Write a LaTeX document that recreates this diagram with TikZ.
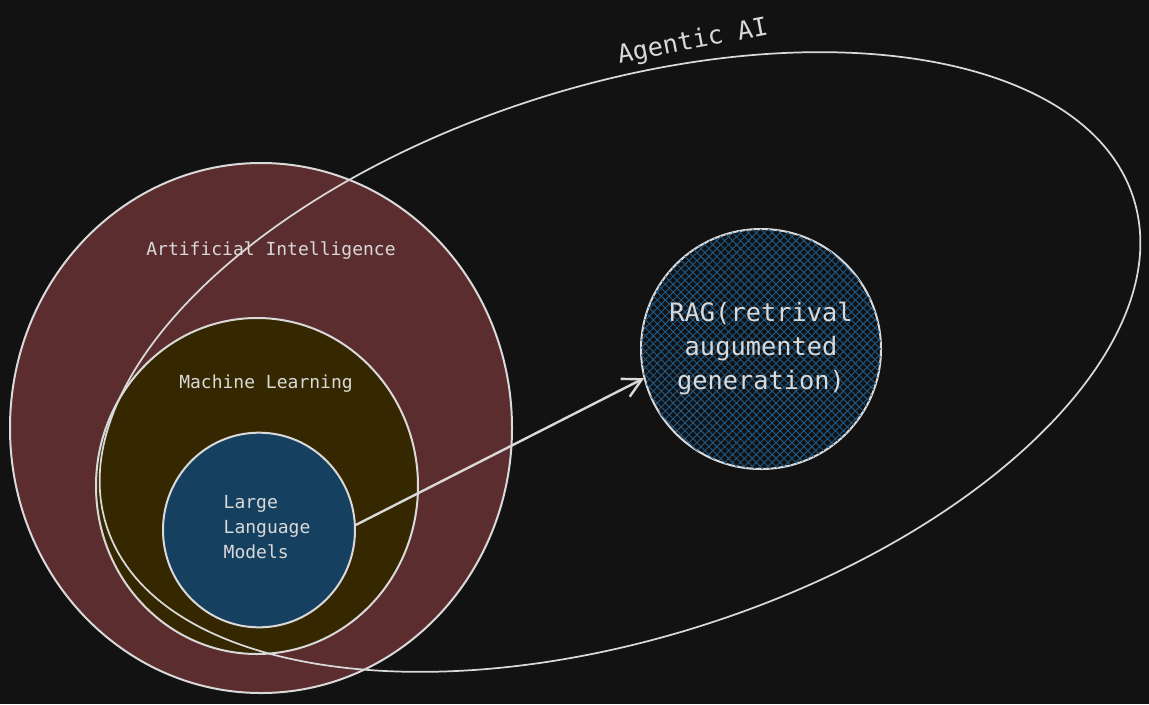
\documentclass[tikz,border=0pt]{standalone}
\usepackage{fontspec}
\setmonofont{DejaVu Sans Mono}
\usetikzlibrary{arrows.meta,shapes.geometric,patterns.meta}
\definecolor{bg}{HTML}{121212}
\definecolor{linegray}{HTML}{D9D9D9}
\definecolor{aifill}{HTML}{5C2D2F}
\definecolor{mlfill}{HTML}{352800}
\definecolor{llmfill}{HTML}{16405F}
\definecolor{hatch}{HTML}{1E5A8A}

\begin{document}
\begin{tikzpicture}
    [
        x=0.75pt, y=-0.75pt,
        Set/.style={ellipse, draw=linegray, line width=1.5pt, inner sep=0pt},
        Hatched/.style={circle, draw=linegray, line width=1.5pt, inner sep=0pt,
            pattern={Lines[angle=45,distance=4.2pt,line width=0.7pt]}, pattern color=hatch,
            postaction={pattern={Lines[angle=-45,distance=4.2pt,line width=0.7pt]}, pattern color=hatch}},
        Agentic/.style={ellipse, draw=linegray, line width=1.3pt, inner sep=0pt},
        TextBox1/.style={text=linegray, font=\ttfamily\fontsize{13.5}{18.75}\selectfont},
        TextBox2/.style={text=linegray, font=\ttfamily\fontsize{19}{25.5}\selectfont}
    ]

    \fill[bg] (0,0) rectangle (1149,704);
    \useasboundingbox (0,0) rectangle (1149,704);

    \node[Set, fill=aifill, minimum width=376.5pt, minimum height=397.5pt] (AI) at (261,428) {};
    \node[TextBox1] (AI_label) at (271,251) {Artificial Intelligence};
    \node[Set, fill=mlfill, minimum width=241.5pt, minimum height=252pt] (ML) at (257,486) {};
    \node[TextBox1] (ML_label) at (266,384) {Machine Learning};
    \node[Set, fill=llmfill, minimum width=144pt, minimum height=146pt] (LLM) at (259,530) {};
    \node[TextBox1, align=left, anchor=west] (LLM_label) at (219,527) {Large\\Language\\Models};

    \node[Hatched, TextBox2, align=center, minimum size=180pt] (RAG) at (761,349) {RAG(retrival\\augumented\\generation)};

    \node[Agentic, rotate=17.7, minimum width=808.5pt, minimum height=414pt] (Agentic_AI) at (620,362) {};
    \node[TextBox2, rotate=10.9] (Agentic_label) at (693,42) {Agentic AI};

    \draw[draw=linegray, line width=1.8pt, -{Straight Barb[length=14pt,width=15pt]}] (LLM.3) -- (RAG.194);
\end{tikzpicture}
\end{document}
